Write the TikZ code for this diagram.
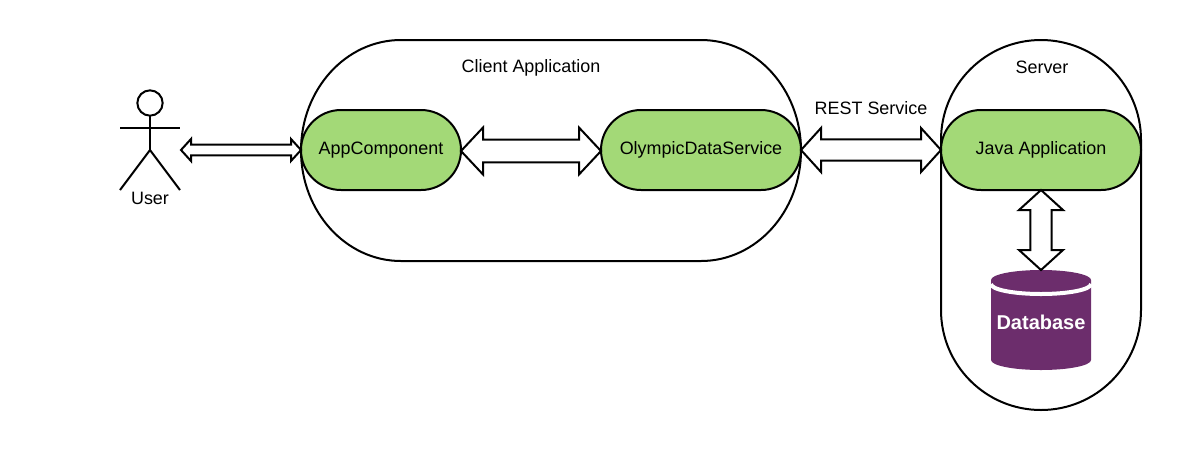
\documentclass[tikz,border=0pt]{standalone}
\usepackage{fontspec}
\setmainfont{Liberation Sans}
\usepackage{tikz}
\usetikzlibrary{calc}
\definecolor{leafgreen}{HTML}{A3D977}
\definecolor{dbpurple}{HTML}{6C2D6C}
\tikzset{
	outline/.style={draw=black, line width=1.5pt},
	label/.style={font=\fontsize{13.45}{16}\selectfont, text=black},
	region/.style={outline, outer sep=0pt, rounded corners=75pt},
	service/.style={outline, label, fill=leafgreen, outer sep=0pt, minimum width=120pt, minimum height=60pt, rounded corners=30pt},
}
% from (#2) to (#3): half head #4, half shaft #5, head length #6
\def\fatarrow[#1](#2)(#3)(#4:#5:#6){\draw[outline, fill=white, miter limit=10, #1] (#2)
	-- ($(#2)!#6!(#3)!#4!90:(#3)$) -- ($(#2)!#6!(#3)!#5!90:(#3)$)
	-- ($(#3)!#6!(#2)!#5!-90:(#2)$) -- ($(#3)!#6!(#2)!#4!-90:(#2)$)
	-- (#3)
	-- ($(#3)!#6!(#2)!#4!90:(#2)$) -- ($(#3)!#6!(#2)!#5!90:(#2)$)
	-- ($(#2)!#6!(#3)!#5!-90:(#3)$) -- ($(#2)!#6!(#3)!#4!-90:(#3)$)
	-- cycle;}

\begin{document}
\begin{tikzpicture}[x=0.75pt, y=-0.75pt]
	%%%%% START %%%%%
	\useasboundingbox (0, 0) rectangle (1202, 451);
	
	\draw[outline] (401, 40) -- (701, 40) arc (-90:90:100 and 110.5) -- (401, 261) arc (90:270:100 and 110.5) -- cycle;
	\node[region, minimum width=150pt, minimum height=277.5pt] (server) at (1041, 225) {};
	\node[label] (clienttitle) at (531, 68) {Client Application};
	\node[label] (servertitle) at (1042, 67) {Server};
	
	\node[service] (app) at (381, 150) {AppComponent};
	\node[service, minimum width=150pt] (olympic) at (701, 150) {OlympicDataService};
	\node[service, minimum width=150pt] (java) at (1041, 150) {Java Application};
	
	\draw[line width=1.5pt] (150, 103) circle (9.5pt);
	\draw[line width=1.5pt] (150, 115.7) -- (150, 150);
	\draw[line width=1.5pt] (120, 128) -- (180, 128);
	\draw[line width=1.5pt] (120, 190) -- (150, 150) -- (180, 190);
	\node[label] (user) at (150, 198) {User};
	\coordinate (usertip) at (181, 150);
	
	\fill[dbpurple] (991, 280) -- (991, 360) arc (180:0:50 and 10) -- (1091, 280) arc (0:-180:50 and 10) -- cycle;
	\draw[white, line width=3pt] (991, 284) arc (180:0:50 and 10);
	\node[label, font=\fontsize{15}{18}\selectfont\bfseries, text=white, outer sep=0pt, minimum width=75pt, minimum height=78pt] (db) at (1041, 322) {Database};
	
	\fatarrow[](usertip)(app.west)(8.25pt:4pt:7.5pt);
	\fatarrow[]([yshift=-0.75pt]app.east)([yshift=-0.75pt]olympic.west)(17.6pt:8.6pt:16.5pt);
	\fatarrow[](olympic.east)(java.west)(16.5pt:8pt:15pt);
	\fatarrow[](java.south)(db.north)(16.5pt:8pt:15pt);
	\node[label] (rest) at (871, 108) {REST Service};
	
	%%%%% END %%%%%
\end{tikzpicture}
\end{document}
